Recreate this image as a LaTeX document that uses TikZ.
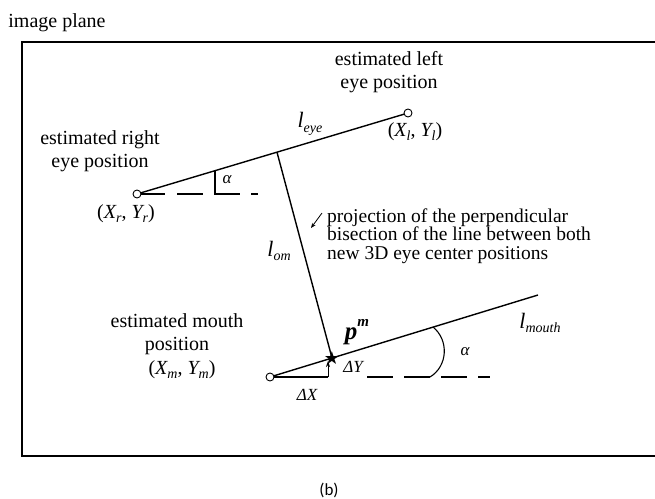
\documentclass[tikz,border=0pt]{standalone}
\usepackage{fontspec}
\setmainfont{Liberation Serif}
\newfontfamily\symfont{DejaVu Sans}
\newfontfamily\capfont{Carlito}
\usetikzlibrary{arrows.meta}
\newcommand{\lsub}[2]{{\itshape #1}\raisebox{-0.45ex}{\fontsize{14}{14}\selectfont\itshape #2}}
\tikzset{
  lab/.style={font=\fontsize{20}{23}\selectfont, inner sep=0pt},
  tight/.style={font=\fontsize{19.5}{18.5}\selectfont, inner sep=0pt},
  eyept/.style={circle, draw, fill=white, minimum size=8pt, inner sep=0pt, line width=0.9pt},
  ln/.style={line width=1.4pt},
  thinln/.style={line width=1.1pt},
  dashln/.style={line width=1.4pt, dash pattern=on 26pt off 11pt},
}
\begin{document}
\begin{tikzpicture}[x=1pt,y=-1pt]
\useasboundingbox (0,0) rectangle (655,498);
% frame
\coordinate (b1) at (655,42);
\coordinate (b2) at (22,42);
\coordinate (b3) at (22,456);
\coordinate (b4) at (655,456);
\draw[line width=1.3pt] (b1) -- (b2) -- (b3) -- (b4);
\node[lab] (title) at (57,23) {image plane};
\node[font=\capfont\fontsize{17}{20}\selectfont, inner sep=0pt] (cap) at (329,490) {(b)};

% points
\coordinate (Rc) at (137,194);
\coordinate (Lc) at (408,113);
\coordinate (F) at (277,152.2);
\coordinate (Mc) at (270,377);
\coordinate (E) at (538,295);
\coordinate (Sc) at (332,358);

% eye horizontal reference
\coordinate (eh1) at (165,194);
\coordinate (eh2) at (258,194);
\draw[ln] (Rc) -- (eh1);
\draw[dashln] ([xshift=12pt]eh1) -- (eh2);
\coordinate (ea1) at (215,194);
\coordinate (ea2) at (215,170.7);
\draw[thinln] (ea1) -- (ea2);

% mouth horizontal reference
\coordinate (mh1) at (328,377);
\coordinate (mh2) at (367,377);
\coordinate (mh3) at (490,377);
\draw[ln] (Mc) -- (mh1);
\draw[dashln] (mh2) -- (mh3);
\coordinate (arcA) at (430,377);
\coordinate (arcB) at (433,327);
\draw[thinln] (arcA) .. controls (448,366) and (449,340) .. (arcB);
\coordinate (dyt) at (328,361);
\draw[line width=0.9pt, -{Stealth[length=6pt,width=4pt]}] (mh1) -- (dyt);

% main lines
\draw[ln] (Rc) -- (Lc);
\draw[ln] (F) -- (Sc);
\draw[ln] (Mc) -- (E);

% points on top
\node[eyept] (R) at (Rc) {};
\node[eyept] (L) at (Lc) {};
\node[eyept] (M) at (Mc) {};
\node[font=\symfont\fontsize{18}{18}\selectfont, inner sep=0pt] (S) at (Sc) {★};

% arrow to l_om
\coordinate (pa1) at (322,213);
\coordinate (pa2) at (311,228);
\draw[line width=0.8pt, -{Stealth[length=5pt,width=4pt]}] (pa1) -- (pa2);

% texts
\node[lab, align=center] (tleft) at (389,72.5) {estimated left\\eye position};
\node[lab, align=center] (tright) at (100,151) {estimated right\\eye position};
\node[lab, align=center] (tmouth) at (177,334) {estimated mouth\\position};
\node[tight, align=left, anchor=west] (tproj) at (327,236) {projection of the perpendicular\\bisection of the line between both\\new 3D eye center positions};

\node[lab] (XL) at (415,132) {(\lsub{X}{l}, \lsub{Y}{l})};
\node[lab] (XR) at (126,214) {(\lsub{X}{r}, \lsub{Y}{r})};
\node[lab] (XM) at (182,370) {(\lsub{X}{m}, \lsub{Y}{m})};

\node[lab] (leye) at (310,124) {\fontsize{22}{22}\selectfont\lsub{l}{eye}};
\node[lab] (lom) at (279,251) {\fontsize{22}{22}\selectfont\lsub{l}{om}};
\node[lab] (lmouth) at (540,323) {\fontsize{22}{22}\selectfont\lsub{l}{mouth}};
\node[lab] (pm) at (357,332) {\fontsize{25}{25}\selectfont{\bfseries\itshape p}\raisebox{1.1ex}{\fontsize{15}{15}\selectfont\bfseries\itshape m}};

\node[lab] (a1) at (227,180) {\fontsize{17}{17}\selectfont\itshape α};
\node[lab] (a2) at (465,352) {\fontsize{17}{17}\selectfont\itshape α};
\node[lab] (dY) at (353,367) {\fontsize{17}{17}\selectfont\itshape ΔY};
\node[lab] (dX) at (307,395) {\fontsize{17}{17}\selectfont\itshape ΔX};
\end{tikzpicture}
\end{document}
